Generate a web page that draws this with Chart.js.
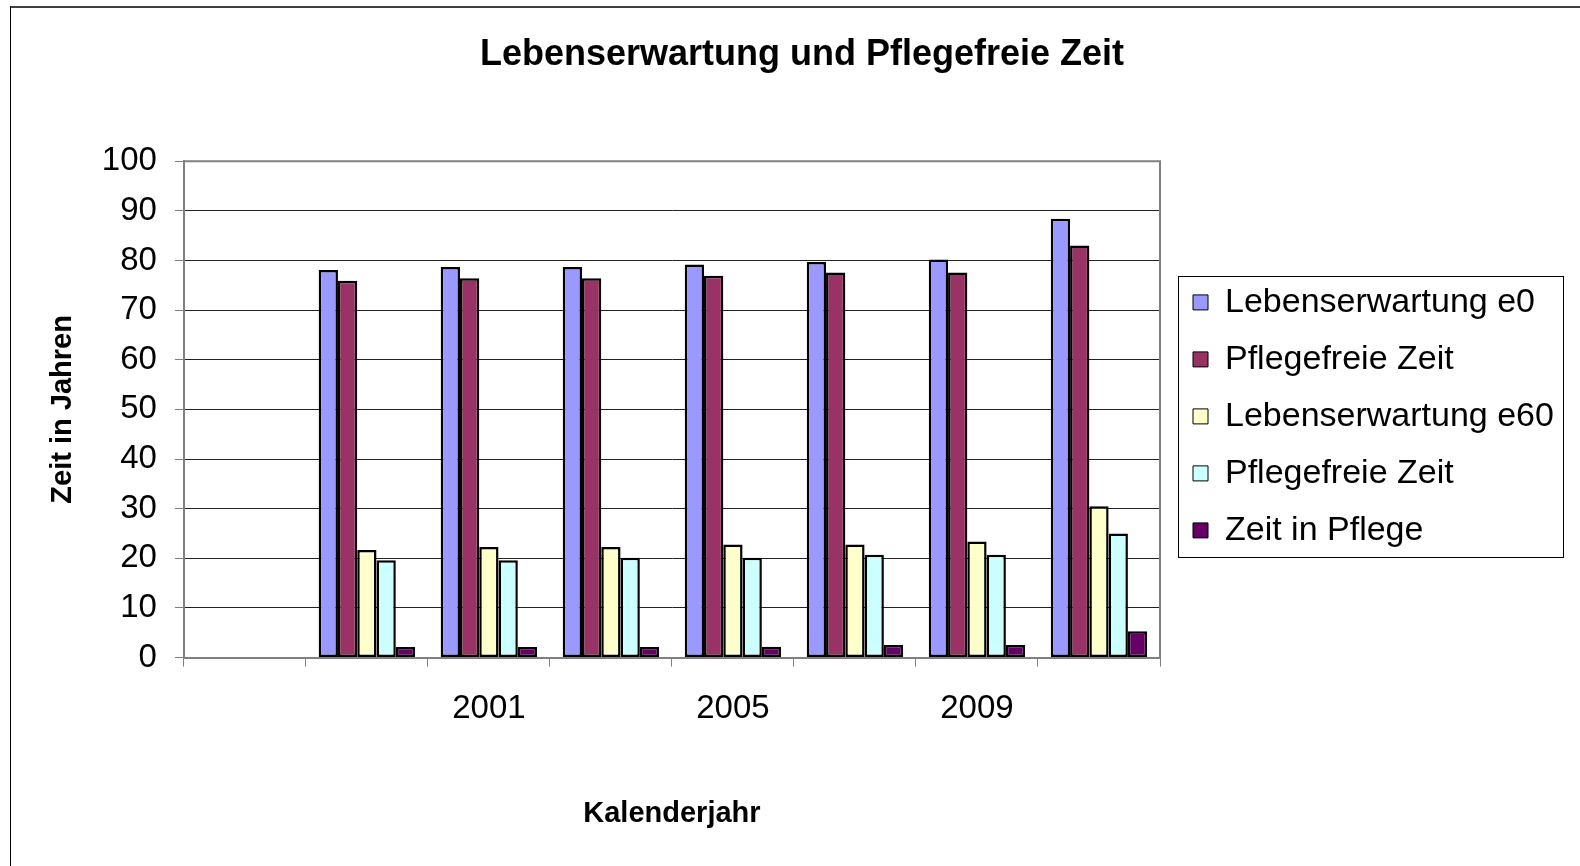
<!DOCTYPE html>
<html>
<head>
<meta charset="utf-8">
<script src="https://cdn.jsdelivr.net/npm/chart.js@4/dist/chart.umd.min.js"></script>
<style>
  html, body { margin: 0; padding: 0; background: #fff; }
  #wrap { width: 1580px; height: 866px; }
</style>
</head>
<body>
<div id="wrap"><canvas id="chart" width="1580" height="866"></canvas></div>
<script>
// --- Daten ---
const jahre = ['', '', '2001', '', '2005', '', '2009', ''];
const lebenserwartungE0 = [null, 78.1, 78.7, 78.7, 79.2, 79.7, 80.2, 88.4];
const pflegefreiE0 = [null, 75.9, 76.4, 76.4, 76.9, 77.6, 77.6, 83.0];
const lebenserwartungE60 = [null, 21.7, 22.3, 22.3, 22.8, 22.8, 23.4, 30.5];
const pflegefreiE60 = [null, 19.6, 19.6, 20.1, 20.1, 20.7, 20.7, 25.0];
const zeitInPflege = [null, 2.15, 2.15, 2.15, 2.2, 2.55, 2.55, 5.3];
const yTicks = [0, 10, 20, 30, 40, 50, 60, 70, 80, 90, 100];

const FONT = "'Liberation Sans', Arial, sans-serif";

// Rahmen der Seite, Rahmen der Zeichenfläche, Legendenrahmen
const rahmenPlugin = {
    id: 'rahmen',
    afterLayout(chart) {
        // Titel und Legende etwas verschieben (wie im Excel-Original)
        chart.titleBlock.left += 22;
        chart.titleBlock.right += 22;
        chart.legend.left += 10;
        chart.legend.right += 25;
        chart.legend.top += 7;
        chart.legend.bottom += 7;
    },
    beforeDraw(chart) {
        const ctx = chart.ctx;
        ctx.save();
        ctx.strokeStyle = '#404040';
        ctx.lineWidth = 2;
        ctx.beginPath();
        ctx.moveTo(10, 7);
        ctx.lineTo(chart.width, 7);
        ctx.stroke();
        ctx.strokeStyle = '#000';
        ctx.lineWidth = 1;
        ctx.beginPath();
        ctx.moveTo(10.5, 6);
        ctx.lineTo(10.5, chart.height);
        ctx.stroke();
        ctx.restore();
    },
    beforeDatasetsDraw(chart) {
        const a = chart.chartArea;
        const ctx = chart.ctx;
        ctx.save();
        ctx.strokeStyle = '#808080';
        ctx.lineWidth = 2;
        ctx.beginPath();
        ctx.moveTo(a.left, a.top);
        ctx.lineTo(a.right, a.top);
        ctx.lineTo(a.right, a.bottom);
        ctx.stroke();
        ctx.restore();
    },
    afterDraw(chart) {
        const hb = chart.legend.legendHitBoxes;
        if (!hb || !hb.length) return;
        const ctx = chart.ctx;
        const left = Math.min(...hb.map(h => h.left)) - 15;
        const right = Math.max(...hb.map(h => h.left + h.width)) + 9;
        const top = hb[0].top - 9;
        const bottom = hb[hb.length - 1].top + hb[hb.length - 1].height + 10;
        ctx.save();
        ctx.strokeStyle = '#000';
        ctx.lineWidth = 1;
        ctx.strokeRect(Math.round(left) + 0.5, Math.round(top) + 0.5, Math.round(right - left), Math.round(bottom - top));
        ctx.restore();
    }
};

function serie(label, data, farbe) {
    return {
        label: label,
        data: data,
        backgroundColor: farbe,
        borderColor: '#000',
        borderWidth: 2.5,
        borderSkipped: false,
        categoryPercentage: 0.79,
        barPercentage: 1.0
    };
}

new Chart(document.getElementById('chart'), {
    type: 'bar',
    data: {
        labels: jahre,
        datasets: [
            serie('Lebenserwartung e0', lebenserwartungE0, '#9999FF'),
            serie('Pflegefreie Zeit', pflegefreiE0, '#993366'),
            serie('Lebenserwartung e60', lebenserwartungE60, '#FFFFCC'),
            serie('Pflegefreie Zeit', pflegefreiE60, '#CCFFFF'),
            serie('Zeit in Pflege', zeitInPflege, '#660066')
        ]
    },
    options: {
        responsive: false,
        animation: false,
        layout: { padding: { left: 20, right: 40, top: 10, bottom: 20 } },
        plugins: {
            title: {
                display: true,
                text: 'Lebenserwartung und Pflegefreie Zeit',
                color: '#000',
                font: { family: FONT, size: 36, weight: 'bold' },
                padding: { top: 23, bottom: 85 }
            },
            legend: {
                position: 'right',
                fullSize: false,
                labels: {
                    color: '#000',
                    font: { family: FONT, size: 34 },
                    boxWidth: 15,
                    boxHeight: 15,
                    padding: 23,
                    generateLabels(chart) {
                        return Chart.defaults.plugins.legend.labels.generateLabels(chart)
                            .map(l => Object.assign(l, { lineWidth: 1 }));
                    }
                }
            },
            tooltip: { enabled: false }
        },
        scales: {
            x: {
                offset: true,
                grid: {
                    offset: true,
                    drawOnChartArea: false,
                    drawTicks: true,
                    tickLength: 9,
                    color: '#808080'
                },
                border: { color: '#808080', width: 2 },
                ticks: {
                    autoSkip: false,
                    maxRotation: 0,
                    padding: 23,
                    color: '#000',
                    font: { family: FONT, size: 33 }
                },
                title: {
                    display: true,
                    text: 'Kalenderjahr',
                    color: '#000',
                    font: { family: FONT, size: 29, weight: 'bold' },
                    padding: { top: 44, bottom: 15 }
                }
            },
            y: {
                min: yTicks[0],
                max: yTicks[yTicks.length - 1],
                afterBuildTicks(axis) {
                    axis.ticks = yTicks.map(v => ({ value: v }));
                },
                grid: {
                    color: '#222',
                    lineWidth: 1,
                    tickLength: 9,
                    tickColor: '#808080'
                },
                border: { color: '#808080', width: 2 },
                ticks: {
                    padding: 18,
                    color: '#000',
                    font: { family: FONT, size: 33 }
                },
                title: {
                    display: true,
                    text: 'Zeit in Jahren',
                    color: '#000',
                    font: { family: FONT, size: 29, weight: 'bold' },
                    padding: { top: 26, bottom: 3 }
                }
            }
        }
    },
    plugins: [rahmenPlugin]
});
</script>
</body>
</html>
